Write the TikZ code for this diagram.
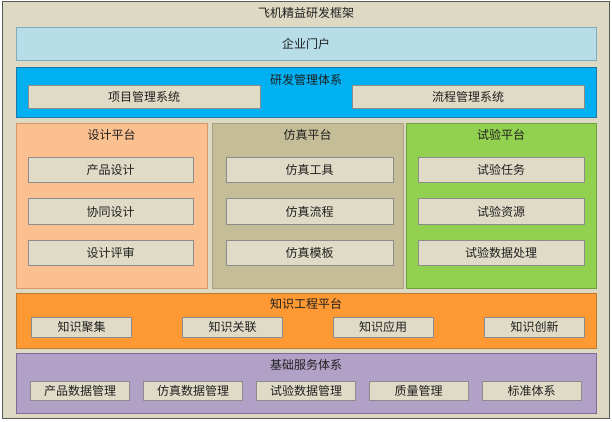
\documentclass[tikz,border=0pt]{standalone}
\usepackage{fontspec}
\setmainfont{Noto Sans CJK SC}
\definecolor{bgc}{HTML}{DDD9C3}
\definecolor{framec}{HTML}{595959}
\definecolor{portalc}{HTML}{B7DDE8}
\definecolor{portalb}{HTML}{7FAFBF}
\definecolor{rdc}{HTML}{00B0F0}
\definecolor{rdb}{HTML}{1F7AA8}
\definecolor{desc}{HTML}{FAC090}
\definecolor{desb}{HTML}{D99668}
\definecolor{simc}{HTML}{C4BD97}
\definecolor{simb}{HTML}{A8A080}
\definecolor{testc}{HTML}{92D050}
\definecolor{testb}{HTML}{6FA040}
\definecolor{knc}{HTML}{FF9933}
\definecolor{knb}{HTML}{C07A30}
\definecolor{basec}{HTML}{B2A1C7}
\definecolor{baseb}{HTML}{7F6A99}
\definecolor{subc}{HTML}{DFDBC6}
\definecolor{subb}{HTML}{8C8C8C}
\definecolor{txt}{HTML}{1F1F1F}
\tikzset{
  layer/.style={draw, line width=1pt, inner sep=0pt, outer sep=0pt},
  subbox/.style={draw=subb, fill=subc, line width=1pt, inner sep=0pt, text=txt, font=\fontsize{12}{12}\selectfont},
  ttl/.style={text=txt, inner sep=0pt, font=\fontsize{12}{12}\selectfont},
}
\begin{document}
\begin{tikzpicture}[x=1pt,y=-1pt]
\useasboundingbox (0,0) rectangle (612,421);
\node[layer, draw=framec, fill=bgc, minimum width=607pt, minimum height=417pt] (frame) at (306,210) {};
\node[ttl] (title) at (306,13) {飞机精益研发框架};
% portal
\node[layer, draw=portalb, fill=portalc, minimum width=580pt, minimum height=33pt, text=txt, font=\fontsize{12}{12}\selectfont] (portal) at (306,43.5) {企业门户};
% R&D management
\node[layer, draw=rdb, fill=rdc, minimum width=580pt, minimum height=50pt] (rd) at (306,92) {};
\node[ttl] (rdt) at (306,80) {研发管理体系};
\node[subbox, minimum width=232pt, minimum height=23pt] (pm) at (144,96.5) {项目管理系统};
\node[subbox, minimum width=232pt, minimum height=23pt] (fm) at (468,96.5) {流程管理系统};
% platforms
\node[layer, draw=desb, fill=desc, minimum width=191pt, minimum height=165pt] (des) at (111.5,205.5) {};
\node[layer, draw=simb, fill=simc, minimum width=191pt, minimum height=165pt] (sim) at (307.5,205.5) {};
\node[layer, draw=testb, fill=testc, minimum width=190pt, minimum height=165pt] (test) at (501,205.5) {};
\node[ttl] (dest) at (111.5,135) {设计平台};
\node[ttl] (simt) at (307.5,135) {仿真平台};
\node[ttl] (testt) at (501,135) {试验平台};
\node[subbox, minimum width=165pt, minimum height=25.5pt] (d1) at (110.5,170) {产品设计};
\node[subbox, minimum width=165pt, minimum height=25.5pt] (d2) at (110.5,211.5) {协同设计};
\node[subbox, minimum width=165pt, minimum height=25.5pt] (d3) at (110.5,253) {设计评审};
\node[subbox, minimum width=167pt, minimum height=25.5pt] (s1) at (309.5,170) {仿真工具};
\node[subbox, minimum width=167pt, minimum height=25.5pt] (s2) at (309.5,211.5) {仿真流程};
\node[subbox, minimum width=167pt, minimum height=25.5pt] (s3) at (309.5,253) {仿真模板};
\node[subbox, minimum width=166pt, minimum height=25.5pt] (t1) at (501,170) {试验任务};
\node[subbox, minimum width=166pt, minimum height=25.5pt] (t2) at (501,211.5) {试验资源};
\node[subbox, minimum width=166pt, minimum height=25.5pt] (t3) at (501,253) {试验数据处理};
% knowledge
\node[layer, draw=knb, fill=knc, minimum width=580pt, minimum height=55pt] (kn) at (306,320.5) {};
\node[ttl] (knt) at (306,304) {知识工程平台};
\node[subbox, minimum width=100pt, minimum height=20pt] (k1) at (81.5,327) {知识聚集};
\node[subbox, minimum width=100pt, minimum height=20pt] (k2) at (232.5,327) {知识关联};
\node[subbox, minimum width=100pt, minimum height=20pt] (k3) at (383,327) {知识应用};
\node[subbox, minimum width=100pt, minimum height=20pt] (k4) at (534.5,327) {知识创新};
% base services
\node[layer, draw=baseb, fill=basec, minimum width=580pt, minimum height=60pt] (base) at (306,383) {};
\node[ttl] (baset) at (306,365) {基础服务体系};
\node[subbox, minimum width=99pt, minimum height=19pt] (b1) at (80,391) {产品数据管理};
\node[subbox, minimum width=99pt, minimum height=19pt] (b2) at (193,391) {仿真数据管理};
\node[subbox, minimum width=99pt, minimum height=19pt] (b3) at (306,391) {试验数据管理};
\node[subbox, minimum width=99pt, minimum height=19pt] (b4) at (418.5,391) {质量管理};
\node[subbox, minimum width=99pt, minimum height=19pt] (b5) at (531.5,391) {标准体系};
\end{tikzpicture}
\end{document}
